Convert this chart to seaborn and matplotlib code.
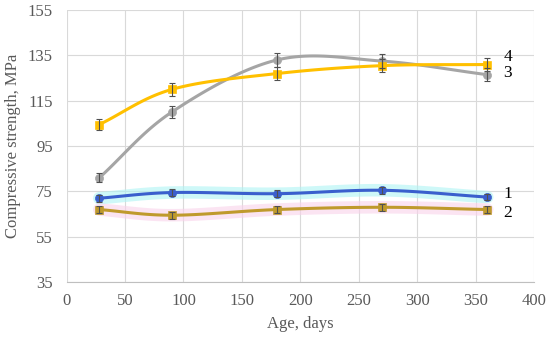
import numpy as np
import pandas as pd
import matplotlib
matplotlib.use("Agg")
import matplotlib.pyplot as plt
import seaborn as sns

# data
days = [28, 90, 180, 270, 360]
s1 = [72.0, 74.5, 74.0, 75.5, 72.5]
s2 = [67.0, 64.5, 67.0, 68.0, 67.0]
s3 = [81.0, 110.0, 133.0, 132.5, 126.5]
s4 = [104.5, 120.0, 127.0, 130.5, 131.0]
err1 = [1.5, 1.5, 1.5, 1.5, 1.5]
err2 = [1.5, 1.5, 1.5, 1.5, 1.5]
err3 = [2.0, 2.5, 3.0, 3.0, 3.0]
err4 = [2.5, 3.0, 3.0, 3.0, 3.0]
names = ["1", "2", "3", "4"]

sns.set_style("white")
plt.rcParams["font.family"] = ["Liberation Serif", "DejaVu Serif"]


def smooth(x, y, n=30):
    # Excel-like smoothed line (Catmull-Rom spline through the points)
    x = np.asarray(x, float)
    y = np.asarray(y, float)
    px = np.concatenate([[2 * x[0] - x[1]], x, [2 * x[-1] - x[-2]]])
    py = np.concatenate([[2 * y[0] - y[1]], y, [2 * y[-1] - y[-2]]])
    xs, ys = [], []
    t = np.linspace(0, 1, n)
    for i in range(1, len(px) - 2):
        p0, p1, p2, p3 = [np.array([px[j], py[j]]) for j in range(i - 1, i + 3)]
        c1 = p1 + (p2 - p0) / 6
        c2 = p2 - (p3 - p1) / 6
        pts = ((1 - t) ** 3)[:, None] * p1 + (3 * (1 - t) ** 2 * t)[:, None] * c1 \
            + (3 * (1 - t) * t ** 2)[:, None] * c2 + (t ** 3)[:, None] * p2
        xs.extend(pts[:, 0])
        ys.extend(pts[:, 1])
    return np.array(xs), np.array(ys)


fig = plt.figure(figsize=(5.5, 3.37), dpi=100)
ax = fig.add_axes([0.121, 0.163, 0.850, 0.807])

series = [
    (s1, err1, "#3a5fcd", "o", "#aef4f4"),
    (s2, err2, "#bf9a2c", "s", "#f9d2ea"),
    (s3, err3, "#a5a5a5", "o", None),
    (s4, err4, "#ffc000", "s", None),
]

for (vals, err, col, mk, glow), name in zip(series, names):
    sx, sy = smooth(days, vals)
    if glow:
        ax.plot(sx, sy, color=glow, lw=9, alpha=0.6, solid_capstyle="round", zorder=1)
    ax.plot(sx, sy, color=col, lw=2.2, zorder=3)
    df = pd.DataFrame({"day": days, "val": vals})
    sns.scatterplot(data=df, x="day", y="val", ax=ax, color=col, marker=mk,
                    s=34, edgecolor=col, zorder=4)
    ax.errorbar(days, vals, yerr=err, fmt="none", ecolor="#505050",
                elinewidth=0.8, capsize=2.5, capthick=0.8, zorder=5)

label_y = {"1": 73.8, "2": 65.4, "3": 127.2, "4": 134.3}
for name in names:
    ax.text(374, label_y[name], name, fontsize=12.5, color="black", va="center")

ax.set_xlim(0, 400)
ax.set_ylim(35, 155)
ax.set_xticks(range(0, 401, 50))
ax.set_yticks(range(35, 156, 20))
ax.grid(True, color="#d9d9d9", lw=0.8)
for side in ["top", "right", "left"]:
    ax.spines[side].set_visible(False)
ax.spines["bottom"].set_color("#bfbfbf")
ax.tick_params(axis="x", colors="#595959", labelsize=12, length=0, pad=8)
ax.tick_params(axis="y", colors="#595959", labelsize=12, length=0, pad=10)
ax.set_xlabel("Age, days", fontsize=12, color="#595959", labelpad=5)
ax.set_ylabel("Compressive strength, MPa", fontsize=12, color="#595959", labelpad=5)

fig.savefig("out.png", dpi=100)
